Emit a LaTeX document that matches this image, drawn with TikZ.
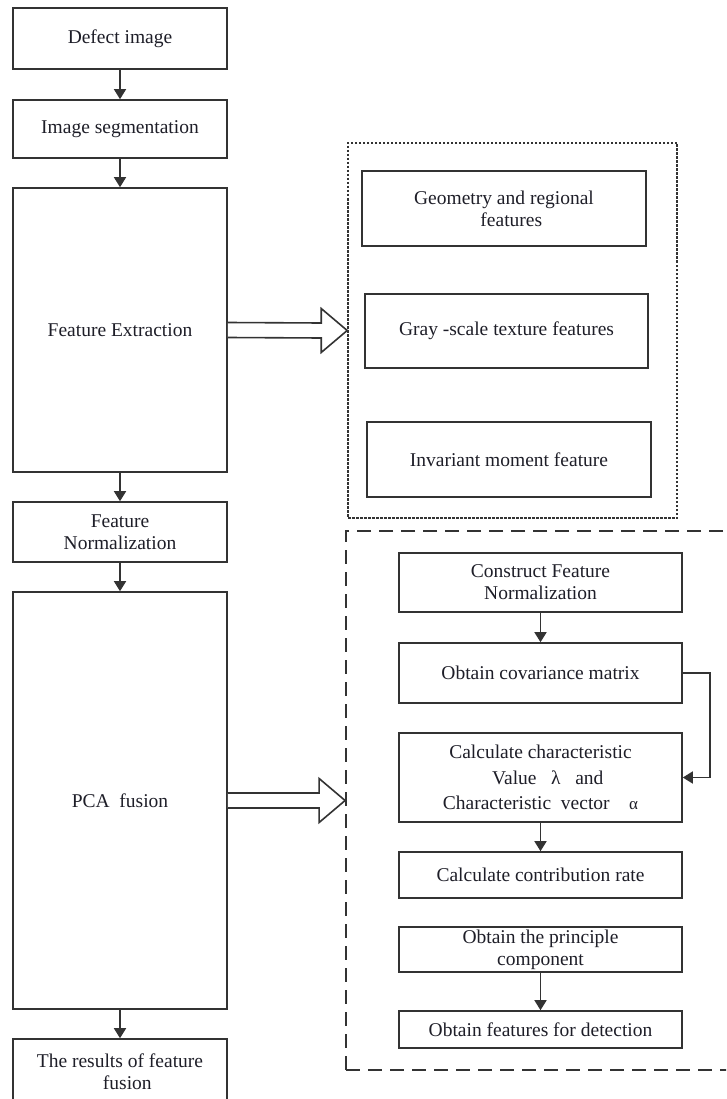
\documentclass[tikz,border=0pt]{standalone}
\usepackage{fontspec}
\setmainfont{Liberation Serif}
\usetikzlibrary{arrows.meta,calc}
\definecolor{ln}{HTML}{333333}
\definecolor{tx}{HTML}{1E1E28}
\begin{document}
\begin{tikzpicture}[x=1pt,y=-1pt,
  box/.style={draw=ln,line width=1.6pt,rectangle,align=center,text=tx,
    font=\fontsize{19.5}{22}\selectfont,inner sep=2pt},
  flow/.style={draw=ln,line width=1.6pt,-{Triangle[width=12pt,length=10pt]}},
  hollow/.style={draw=ln,line width=1.6pt,fill=white,line join=miter},
  dotbox/.style={draw=ln,line width=1.6pt,dash pattern=on 2.5pt off 1.5pt,rectangle},
  dashbox/.style={draw=ln,line width=1.8pt,dash pattern=on 14pt off 8pt,rectangle}]
\useasboundingbox (0,0) rectangle (726,1099);
\clip (0,0) rectangle (726,1099);
\fill[white] (0,0) rectangle (726,1099);
% left column
\node[box,minimum width=214pt,minimum height=61pt] (d1) at (120,38.5) {Defect image};
\node[box,minimum width=214pt,minimum height=58pt] (d2) at (120,129) {Image segmentation};
\node[box,minimum width=214pt,minimum height=284pt] (fe) at (120,330) {Feature Extraction};
\node[box,minimum width=214pt,minimum height=60pt] (fn) at (120,532) {Feature\\Normalization};
\node[box,minimum width=214pt,minimum height=417pt] (pca) at (120,800.5) {PCA\ \ fusion};
\node[box,minimum width=214pt,minimum height=66pt] (res) at (120,1072) {The results of feature\\\ \ \ fusion};
\draw[flow] (d1) -- (d2);
\draw[flow] (d2) -- (fe);
\draw[flow] (fe) -- (fn);
\draw[flow] (fn) -- (pca);
\draw[flow] (pca) -- (res);
% dotted group
\node[dotbox,minimum width=329pt,minimum height=375pt] (dot) at (512.5,330.5) {};
\node[box,minimum width=284pt,minimum height=75pt] (g1) at (504,208.5) {Geometry and regional\\\ \ \ features};
\node[box,minimum width=283pt,minimum height=74pt] (g2) at (506.5,331) {Gray\ -scale texture features};
\node[box,minimum width=284pt,minimum height=75pt] (g3) at (509,459.5) {Invariant moment feature};
% dashed group
\node[dashbox,minimum width=414pt,minimum height=539pt] (dsh) at (553,800.5) {};
\node[box,minimum width=283pt,minimum height=59pt] (c1) at (540.5,582.5) {Construct Feature\\Normalization};
\node[box,minimum width=283pt,minimum height=60pt] (c2) at (540.5,673) {Obtain covariance matrix};
\node[box,minimum width=283pt,minimum height=89pt,font=\fontsize{19.5}{25.5}\selectfont] (c3) at (540.5,777.5) {Calculate characteristic\\\ \ \ Value\ \ \ λ\ \ \ and\\Characteristic\ \ vector\ \ \ \ {\fontsize{17}{17}\selectfont α}};
\node[box,minimum width=283pt,minimum height=46pt] (c4) at (540.5,875) {Calculate contribution rate};
\node[box,minimum width=283pt,minimum height=45pt] (c5) at (540.5,949.5) {Obtain the principle\\component};
\node[box,minimum width=283pt,minimum height=37pt] (c6) at (540.5,1029.5) {Obtain features for detection};
\draw[flow] (c1) -- (c2);
\draw[flow] (c2.east) -- ++(27,0) |- (c3.east);
\draw[flow] (c3) -- (c4);
\draw[flow] (c5) -- (c6);
% hollow arrows
\draw[hollow] ($(fe.east)+(0,-7.5)$) -- ($(dot.west)+(-26,-7.5)$) -- ($(dot.west)+(-26,-22)$) -- (dot.west) -- ($(dot.west)+(-26,22)$) -- ($(dot.west)+(-26,7.5)$) -- ($(fe.east)+(0,7.5)$);
\draw[hollow] ($(pca.east)+(0,-7.5)$) -- ($(dsh.west)+(-26,-7.5)$) -- ($(dsh.west)+(-26,-22)$) -- (dsh.west) -- ($(dsh.west)+(-26,22)$) -- ($(dsh.west)+(-26,7.5)$) -- ($(pca.east)+(0,7.5)$);
\end{tikzpicture}
\end{document}
